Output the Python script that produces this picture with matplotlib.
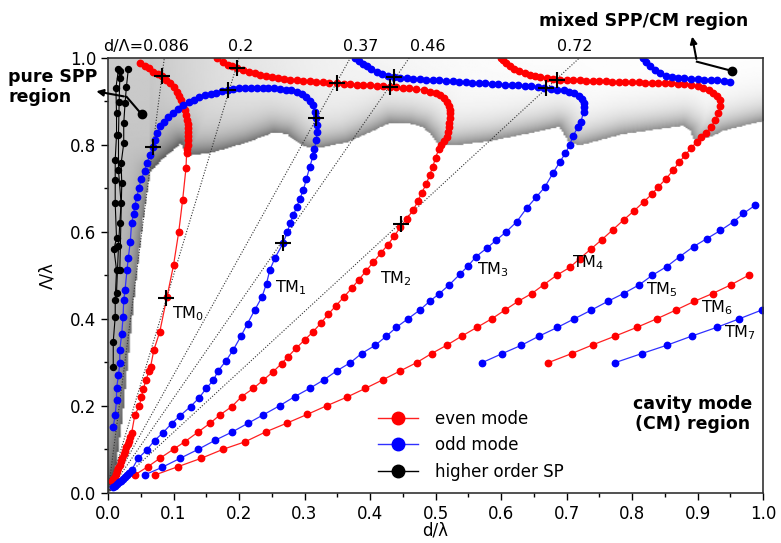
import numpy as np
import matplotlib
matplotlib.use("Agg")
from matplotlib import pyplot as plt
from matplotlib.lines import Line2D

# ---- mode dispersion data (d/lambda, Lambda/lambda) ----
tm0_x = [0.049, 0.056, 0.063, 0.069, 0.076, 0.083, 0.089, 0.095, 0.100, 0.105, 0.109, 0.112,
         0.115, 0.117, 0.119, 0.121, 0.122, 0.122, 0.122, 0.122, 0.122, 0.122, 0.121, 0.120,
         0.119, 0.114, 0.108, 0.100, 0.090, 0.079, 0.070, 0.065, 0.063, 0.058, 0.054, 0.051,
         0.048, 0.041, 0.036, 0.034, 0.032, 0.030, 0.028, 0.026, 0.024, 0.022, 0.020, 0.018,
         0.016, 0.014, 0.012, 0.010, 0.008, 0.006]
tm0_y = [0.987, 0.982, 0.976, 0.968, 0.962, 0.957, 0.950, 0.941, 0.932, 0.922, 0.913, 0.903,
         0.892, 0.880, 0.868, 0.857, 0.848, 0.838, 0.830, 0.820, 0.810, 0.800, 0.790, 0.780,
         0.746, 0.674, 0.600, 0.523, 0.450, 0.370, 0.328, 0.290, 0.280, 0.260, 0.238, 0.221,
         0.200, 0.179, 0.137, 0.128, 0.120, 0.112, 0.104, 0.096, 0.088, 0.080, 0.072, 0.064,
         0.056, 0.049, 0.042, 0.036, 0.031, 0.027]

tm1_x = [0.008, 0.011, 0.014, 0.017, 0.020, 0.023, 0.026, 0.029, 0.032, 0.036,
         0.046, 0.059, 0.071, 0.084, 0.097, 0.110, 0.126, 0.139, 0.150, 0.161, 0.168, 0.180,
         0.191, 0.203, 0.213, 0.224, 0.235, 0.242, 0.247, 0.255, 0.267, 0.274, 0.278, 0.283,
         0.288, 0.293, 0.298, 0.303, 0.308, 0.313, 0.315, 0.318, 0.319, 0.319, 0.318, 0.316,
         0.313, 0.309, 0.303, 0.296, 0.288, 0.280, 0.272, 0.263, 0.254, 0.245, 0.236, 0.227,
         0.218, 0.209, 0.200, 0.191, 0.183, 0.174, 0.165, 0.157, 0.148, 0.139, 0.131, 0.123,
         0.115, 0.107, 0.099, 0.092, 0.085, 0.080, 0.075, 0.071, 0.068, 0.064, 0.059, 0.056,
         0.051, 0.047, 0.044, 0.041, 0.039, 0.036, 0.034, 0.031, 0.029, 0.026, 0.024, 0.023,
         0.021, 0.018, 0.018, 0.016, 0.013, 0.013, 0.011, 0.008]
tm1_y = [0.012, 0.016, 0.020, 0.024, 0.028, 0.032, 0.036, 0.040, 0.045, 0.052,
         0.079, 0.098, 0.120, 0.138, 0.159, 0.177, 0.198, 0.218, 0.240, 0.259, 0.280, 0.303,
         0.328, 0.360, 0.389, 0.420, 0.450, 0.481, 0.512, 0.540, 0.573, 0.600, 0.619, 0.638,
         0.657, 0.676, 0.695, 0.722, 0.749, 0.774, 0.790, 0.810, 0.830, 0.845, 0.861, 0.876,
         0.891, 0.901, 0.910, 0.917, 0.922, 0.925, 0.927, 0.929, 0.930, 0.930, 0.931, 0.931,
         0.931, 0.930, 0.930, 0.928, 0.926, 0.923, 0.920, 0.917, 0.914, 0.909, 0.904, 0.898,
         0.891, 0.882, 0.873, 0.864, 0.853, 0.842, 0.828, 0.812, 0.795, 0.776, 0.757, 0.740,
         0.722, 0.700, 0.680, 0.660, 0.640, 0.620, 0.577, 0.540, 0.512, 0.466, 0.443, 0.405,
         0.366, 0.328, 0.298, 0.270, 0.240, 0.213, 0.179, 0.152]

tm2_x = [0.166, 0.175, 0.183, 0.190, 0.197, 0.206, 0.215, 0.224, 0.232, 0.241, 0.250, 0.259,
         0.268, 0.278, 0.288, 0.298, 0.308, 0.318, 0.328, 0.338, 0.349, 0.360, 0.370, 0.380,
         0.390, 0.400, 0.410, 0.420, 0.430, 0.440, 0.450, 0.460, 0.470, 0.482, 0.492, 0.500,
         0.507, 0.513, 0.517, 0.520, 0.522, 0.522, 0.522, 0.521, 0.520, 0.519, 0.517, 0.513,
         0.509, 0.505, 0.500, 0.496, 0.491, 0.486, 0.479, 0.473, 0.466, 0.456, 0.446, 0.437,
         0.427, 0.416, 0.405, 0.394, 0.383, 0.372, 0.360, 0.348, 0.336, 0.325, 0.313, 0.300,
         0.287, 0.275, 0.265, 0.252, 0.237, 0.222, 0.204, 0.189, 0.171, 0.156, 0.138, 0.117,
         0.100, 0.079, 0.061, 0.041]
tm2_y = [0.999, 0.990, 0.984, 0.980, 0.976, 0.972, 0.968, 0.964, 0.960, 0.957, 0.955, 0.953,
         0.951, 0.949, 0.948, 0.947, 0.946, 0.945, 0.944, 0.943, 0.941, 0.940, 0.939, 0.938,
         0.937, 0.937, 0.936, 0.935, 0.933, 0.932, 0.931, 0.930, 0.928, 0.926, 0.922, 0.918,
         0.914, 0.907, 0.899, 0.890, 0.880, 0.872, 0.861, 0.850, 0.840, 0.829, 0.818, 0.809,
         0.800, 0.790, 0.770, 0.750, 0.730, 0.710, 0.690, 0.670, 0.650, 0.630, 0.610, 0.590,
         0.570, 0.550, 0.530, 0.510, 0.490, 0.470, 0.450, 0.430, 0.410, 0.390, 0.370, 0.351,
         0.332, 0.313, 0.297, 0.278, 0.259, 0.240, 0.221, 0.198, 0.179, 0.160, 0.140, 0.117,
         0.100, 0.079, 0.060, 0.041]

tm3_x = [0.377, 0.383, 0.389, 0.395, 0.402, 0.410, 0.418, 0.427, 0.436, 0.446, 0.456, 0.466,
         0.476, 0.486, 0.496, 0.506, 0.516, 0.526, 0.536, 0.546, 0.556, 0.566, 0.576, 0.586,
         0.596, 0.606, 0.616, 0.626, 0.636, 0.646, 0.656, 0.666, 0.676, 0.686, 0.696, 0.704,
         0.712, 0.719, 0.723, 0.726, 0.727, 0.726, 0.722, 0.717, 0.710, 0.705, 0.698, 0.690,
         0.679, 0.667, 0.654, 0.639, 0.624, 0.608, 0.593, 0.578, 0.562, 0.550, 0.537, 0.521,
         0.506, 0.491, 0.476, 0.458, 0.440, 0.425, 0.408, 0.387, 0.370, 0.349, 0.330, 0.308,
         0.285, 0.262, 0.237, 0.214, 0.190, 0.164, 0.138, 0.110, 0.082, 0.056]
tm3_y = [0.999, 0.992, 0.986, 0.980, 0.974, 0.968, 0.963, 0.959, 0.956, 0.954, 0.953, 0.952,
         0.951, 0.950, 0.949, 0.948, 0.947, 0.946, 0.945, 0.944, 0.943, 0.942, 0.941, 0.940,
         0.939, 0.938, 0.938, 0.937, 0.936, 0.934, 0.932, 0.930, 0.929, 0.927, 0.925, 0.922,
         0.918, 0.912, 0.905, 0.897, 0.887, 0.876, 0.853, 0.840, 0.820, 0.800, 0.780, 0.761,
         0.734, 0.703, 0.680, 0.654, 0.623, 0.600, 0.581, 0.562, 0.543, 0.522, 0.502, 0.478,
         0.458, 0.440, 0.420, 0.400, 0.380, 0.360, 0.339, 0.320, 0.299, 0.280, 0.260, 0.240,
         0.221, 0.200, 0.179, 0.160, 0.140, 0.121, 0.100, 0.079, 0.058, 0.041]

tm4_x = [0.600, 0.603, 0.607, 0.613, 0.620, 0.628, 0.636, 0.644, 0.652, 0.660, 0.670, 0.680,
         0.690, 0.700, 0.710, 0.720, 0.730, 0.740, 0.750, 0.760, 0.770, 0.780, 0.790, 0.800,
         0.810, 0.820, 0.830, 0.840, 0.850, 0.860, 0.870, 0.880, 0.890, 0.900, 0.909, 0.917,
         0.924, 0.930, 0.934, 0.934, 0.932, 0.927, 0.921, 0.913, 0.906, 0.899, 0.890, 0.881,
         0.872, 0.863, 0.852, 0.840, 0.830, 0.818, 0.803, 0.787, 0.771, 0.754, 0.737, 0.720,
         0.705, 0.685, 0.665, 0.647, 0.626, 0.606, 0.586, 0.563, 0.540, 0.517, 0.494, 0.471,
         0.446, 0.420, 0.393, 0.365, 0.334, 0.304, 0.273, 0.241, 0.209, 0.176, 0.142, 0.107,
         0.072]
tm4_y = [1.000, 0.994, 0.987, 0.981, 0.975, 0.969, 0.965, 0.961, 0.958, 0.955, 0.953, 0.951,
         0.950, 0.949, 0.948, 0.948, 0.947, 0.947, 0.946, 0.946, 0.945, 0.945, 0.944, 0.944,
         0.944, 0.943, 0.943, 0.942, 0.942, 0.941, 0.940, 0.939, 0.937, 0.934, 0.930, 0.925,
         0.918, 0.912, 0.903, 0.889, 0.872, 0.857, 0.841, 0.828, 0.817, 0.807, 0.792, 0.776,
         0.760, 0.742, 0.722, 0.703, 0.686, 0.669, 0.648, 0.627, 0.605, 0.582, 0.560, 0.538,
         0.518, 0.500, 0.478, 0.458, 0.440, 0.420, 0.400, 0.380, 0.360, 0.339, 0.320, 0.299,
         0.280, 0.260, 0.240, 0.220, 0.200, 0.180, 0.160, 0.140, 0.117, 0.100, 0.079, 0.060,
         0.041]

tm5_x = [0.571, 0.602, 0.631, 0.658, 0.686, 0.712, 0.738, 0.763, 0.787, 0.811, 0.831, 0.853,
         0.873, 0.894, 0.914, 0.935, 0.955, 0.970, 0.988]
tm5_y = [0.299, 0.320, 0.339, 0.360, 0.380, 0.400, 0.420, 0.440, 0.458, 0.478, 0.500, 0.520,
         0.543, 0.566, 0.584, 0.603, 0.623, 0.642, 0.661]

tm5_top_x = [0.817, 0.822, 0.828, 0.835, 0.843, 0.852, 0.861, 0.870, 0.880, 0.890, 0.900, 0.910,
             0.920, 0.930, 0.940, 0.950]
tm5_top_y = [0.999, 0.990, 0.980, 0.971, 0.964, 0.959, 0.956, 0.954, 0.953, 0.952, 0.951, 0.950,
             0.949, 0.948, 0.946, 0.945]

tm6_x = [0.672, 0.708, 0.740, 0.774, 0.807, 0.838, 0.867, 0.895, 0.923, 0.951, 0.978]
tm6_y = [0.299, 0.320, 0.340, 0.360, 0.380, 0.400, 0.420, 0.440, 0.458, 0.478, 0.500]

tm7_x = [0.774, 0.815, 0.853, 0.891, 0.929, 0.964, 0.998]
tm7_y = [0.299, 0.320, 0.339, 0.360, 0.380, 0.400, 0.420]

# higher order surface plasmons
sp_a_x = [0.008, 0.008, 0.011, 0.011, 0.013, 0.009, 0.013, 0.011, 0.011, 0.011, 0.013, 0.013, 0.012, 0.016]
sp_a_y = [0.290, 0.347, 0.405, 0.443, 0.512, 0.560, 0.585, 0.665, 0.720, 0.766, 0.822, 0.872, 0.930, 0.974]
sp_b_x = [0.013, 0.016, 0.018, 0.020, 0.016, 0.016, 0.017, 0.018, 0.019]
sp_b_y = [0.460, 0.567, 0.620, 0.665, 0.741, 0.822, 0.899, 0.953, 0.970]
sp_c_x = [0.018, 0.021, 0.020, 0.024, 0.024, 0.026, 0.028, 0.031]
sp_c_y = [0.512, 0.711, 0.757, 0.803, 0.849, 0.895, 0.932, 0.974]

# crossings with the constant d/Lambda lines
cross_x = [0.083, 0.069, 0.089, 0.197, 0.183, 0.267, 0.349, 0.318, 0.430, 0.436, 0.448, 0.685, 0.669]
cross_y = [0.958, 0.795, 0.447, 0.976, 0.926, 0.573, 0.941, 0.861, 0.933, 0.956, 0.618, 0.950, 0.930]

ratios = [0.086, 0.2, 0.37, 0.46, 0.72]
ratio_labels = ["d/\u039b=0.086", "0.2", "0.37", "0.46", "0.72"]
ratio_label_x = [-0.008, 0.183, 0.359, 0.461, 0.685]

mode_labels = ["TM$_0$", "TM$_1$", "TM$_2$", "TM$_3$", "TM$_4$", "TM$_5$", "TM$_6$", "TM$_7$"]
mode_label_x = [0.098, 0.255, 0.415, 0.563, 0.708, 0.822, 0.906, 0.941]
mode_label_y = [0.412, 0.472, 0.492, 0.512, 0.530, 0.466, 0.425, 0.369]

# shaded-region boundaries
left_bnd_x = [0.0, 0.011, 0.021, 0.037, 0.044, 0.050, 0.057, 0.064]
left_bnd_y = [0.0, 0.060, 0.175, 0.420, 0.520, 0.600, 0.680, 0.740]
band_bnd_x = [0.064, 0.080, 0.095, 0.105, 0.110, 0.115, 0.120, 0.160, 0.212, 0.252, 0.272, 0.288,
              0.303, 0.324, 0.364, 0.405, 0.430, 0.460, 0.480, 0.492, 0.500, 0.507, 0.530, 0.583,
              0.660, 0.688, 0.696, 0.703, 0.720, 0.786, 0.878, 0.888, 0.896, 0.920, 0.940, 1.0]
band_bnd_y = [0.740, 0.765, 0.785, 0.798, 0.805, 0.790, 0.776, 0.784, 0.807, 0.830, 0.826, 0.807,
              0.795, 0.795, 0.807, 0.834, 0.852, 0.850, 0.842, 0.825, 0.808, 0.800, 0.800, 0.810,
              0.833, 0.843, 0.825, 0.806, 0.800, 0.826, 0.845, 0.835, 0.810, 0.820, 0.834, 0.856]


def dist_to_curve(X, Y, cx, cy, nsamp=500):
    # distance (in screen pixels) from every grid point to a polyline
    t = np.linspace(0, 1, nsamp)
    k = np.linspace(0, 1, len(cx))
    px = np.interp(t, k, cx) * 655
    py = np.interp(t, k, cy) * 435
    d = np.empty_like(X)
    for i in range(X.shape[0]):
        dx = X[i][:, None] * 655 - px[None, :]
        dy = Y[i][:, None] * 435 - py[None, :]
        d[i] = np.sqrt(dx ** 2 + dy ** 2).min(axis=1)
    return d


def shading_image(n=360):
    xs = np.linspace(0, 1, n)
    X, Y = np.meshgrid(xs, xs)
    xl = np.interp(Y, left_bnd_y, left_bnd_x)
    yb = np.interp(X, band_bnd_x, band_bnd_y)
    in_left = X < xl
    in_band = (Y > yb) & ~in_left

    d_left = dist_to_curve(X, Y, left_bnd_x, left_bnd_y)
    d_band = dist_to_curve(X, Y, band_bnd_x, band_bnd_y)

    left_val = 0.80 - 0.15 * (1 - Y) - 0.27 * np.exp(-d_left / 8) - 0.2 * np.exp(-Y / 0.06)
    band_val = 1 - 0.3 * np.exp(-X / 0.2) - 0.45 * np.exp(-d_band / 14)
    img = np.ones_like(X)
    img[in_left] = left_val[in_left]
    img[in_band] = band_val[in_band]
    return np.clip(img, 0, 1)


fig = plt.figure(figsize=(7.81, 5.43), dpi=100)
ax = fig.add_axes([0.1383, 0.0926, 0.8387, 0.801])

ax.imshow(shading_image(), extent=[0, 1, 0, 1], origin="lower", cmap="gray",
          vmin=0, vmax=1, aspect="auto", interpolation="bilinear", zorder=0)

for r in ratios:
    ax.plot([0, r], [0, 1], ls=(0, (1, 1.5)), color="#333333", lw=0.8, zorder=1)

red_modes = [(tm0_x, tm0_y), (tm2_x, tm2_y), (tm4_x, tm4_y), (tm6_x, tm6_y)]
blue_modes = [(tm1_x, tm1_y), (tm3_x, tm3_y), (tm5_x, tm5_y), (tm5_top_x, tm5_top_y), (tm7_x, tm7_y)]
sp_modes = [(sp_a_x, sp_a_y), (sp_b_x, sp_b_y), (sp_c_x, sp_c_y)]

for xs, ys in red_modes:
    ax.plot(xs, ys, "-o", color="#ff2020", mfc="#ff0000", mec="#ff0000", ms=4.6, lw=0.9, zorder=2)
for xs, ys in blue_modes:
    ax.plot(xs, ys, "-o", color="#3030ff", mfc="#0000ff", mec="#0000ff", ms=4.6, lw=0.9, zorder=2)
for xs, ys in sp_modes:
    ax.plot(xs, ys, "-o", color="black", ms=4.3, lw=0.8, zorder=2)

ax.plot(cross_x, cross_y, "+", color="black", ms=12, mew=1.5, zorder=3)

for lab, lx in zip(ratio_labels, ratio_label_x):
    ax.text(lx, 1.008, lab, fontsize=11.5, ha="left", va="bottom", clip_on=False)

for lab, lx, ly in zip(mode_labels, mode_label_x, mode_label_y):
    ax.text(lx, ly, lab, fontsize=11.5, ha="left", va="center")

# region annotations
ax.text(-0.152, 0.933, "pure SPP\nregion", fontsize=12.5, fontweight="bold",
        ha="left", va="center", linespacing=1.1, clip_on=False)
ax.plot([0.0514, 0.0285], [0.870, 0.910], color="black", lw=1.5, clip_on=False, zorder=4)
ax.plot([0.0514], [0.870], "o", color="black", ms=6, clip_on=False, zorder=4)
ax.annotate("", xy=(-0.022, 0.924), xytext=(0.0285, 0.910),
            arrowprops=dict(arrowstyle="-|>", color="black", lw=1.5, mutation_scale=10),
            annotation_clip=False)

ax.text(0.818, 1.085, "mixed SPP/CM region", fontsize=12.5, fontweight="bold",
        ha="center", va="center", clip_on=False)
ax.plot([0.952, 0.899], [0.970, 0.991], color="black", lw=1.5, clip_on=False, zorder=4)
ax.plot([0.952], [0.970], "o", color="black", ms=6, clip_on=False, zorder=4)
ax.annotate("", xy=(0.891, 1.055), xytext=(0.899, 0.991),
            arrowprops=dict(arrowstyle="-|>", color="black", lw=1.5, mutation_scale=10),
            annotation_clip=False)

ax.text(0.893, 0.18, "cavity mode\n(CM) region", fontsize=12.5, fontweight="bold",
        ha="center", va="center", linespacing=1.15)

handles = [Line2D([], [], color="#ff2020", marker="o", mfc="#ff0000", mec="#ff0000", ms=9, lw=1),
           Line2D([], [], color="#3030ff", marker="o", mfc="#0000ff", mec="#0000ff", ms=9, lw=1),
           Line2D([], [], color="black", marker="o", ms=9, lw=1)]
ax.legend(handles, ["even mode", "odd mode", "higher order SP"], loc="upper left",
          bbox_to_anchor=(0.39, 0.225), frameon=False, fontsize=12, handlelength=2.4,
          handletextpad=1.0, labelspacing=0.5, numpoints=1)

ax.set_xlim(0, 1)
ax.set_ylim(0, 1)
ax.set_xticks(np.arange(0, 1.01, 0.1))
ax.set_xticks(np.arange(0.05, 1.0, 0.1), minor=True)
ax.set_yticks(np.arange(0, 1.01, 0.2))
ax.set_yticks(np.arange(0.1, 1.0, 0.2), minor=True)
ax.set_xticklabels(["%.1f" % v for v in np.arange(0, 1.01, 0.1)])
ax.set_yticklabels(["%.1f" % v for v in np.arange(0, 1.01, 0.2)])
ax.tick_params(which="major", direction="out", length=5, width=1, labelsize=12)
ax.tick_params(which="minor", direction="out", length=3, width=1)
for sp in ax.spines.values():
    sp.set_linewidth(1.2)
    sp.set_color("#333333")

ax.set_xlabel("d/\u03bb", fontsize=12, labelpad=-1)
ax.set_ylabel("\u039b/\u03bb", fontsize=12, labelpad=10)

fig.savefig("out.png", dpi=100)
